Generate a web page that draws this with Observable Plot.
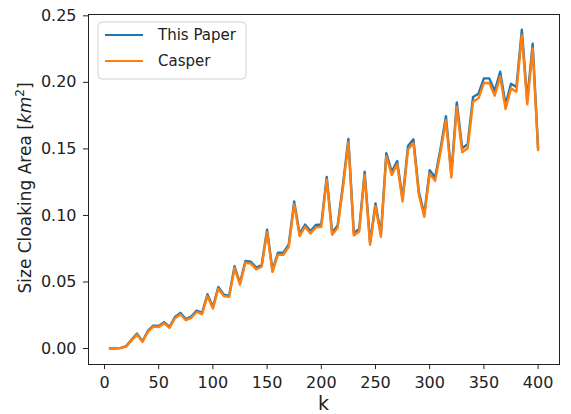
<!DOCTYPE html>
<html>
<head>
<meta charset="utf-8">
<script src="https://cdn.jsdelivr.net/npm/d3@7"></script>
<script src="https://cdn.jsdelivr.net/npm/@observablehq/plot@0.6"></script>
<style>
  html, body { margin: 0; padding: 0; background: #fff; }
  #chart { width: 571px; height: 414px; }
</style>
</head>
<body>
<div id="chart"></div>
<script>
const seriesNames = ["This Paper", "Casper"];
const seriesColors = ["#1f77b4", "#ff7f0e"];
const xTicks = [0, 50, 100, 150, 200, 250, 300, 350, 400];
const yTicks = [0, 0.05, 0.10, 0.15, 0.20, 0.25];

const ks = [5,10,15,20,25,30,35,40,45,50,55,60,65,70,75,80,85,90,95,100,
  105,110,115,120,125,130,135,140,145,150,155,160,165,170,175,180,185,190,195,200,
  205,210,215,220,225,230,235,240,245,250,255,260,265,270,275,280,285,290,295,300,
  305,310,315,320,325,330,335,340,345,350,355,360,365,370,375,380,385,390,395,400];

const thisPaper = [0.0000,0.0001,0.0005,0.0018,0.0065,0.0112,0.0055,0.0132,0.0172,0.0170,
  0.0198,0.0162,0.0237,0.0268,0.0222,0.0240,0.0285,0.0268,0.0408,0.0310,
  0.0462,0.0405,0.0398,0.0618,0.0492,0.0658,0.0652,0.0608,0.0628,0.0893,
  0.0588,0.0720,0.0720,0.0782,0.1105,0.0862,0.0932,0.0882,0.0928,0.0932,
  0.1290,0.0872,0.0922,0.1232,0.1575,0.0868,0.0898,0.1328,0.0798,0.1090,
  0.0858,0.1468,0.1328,0.1408,0.1125,0.1522,0.1572,0.1178,0.1010,0.1340,
  0.1285,0.1502,0.1745,0.1310,0.1850,0.1505,0.1535,0.1890,0.1915,0.2030,
  0.2030,0.1935,0.2080,0.1835,0.1990,0.1965,0.2395,0.1865,0.2290,0.1505];

const casper = [0.0000,0.0000,0.0004,0.0015,0.0060,0.0105,0.0050,0.0125,0.0165,0.0162,
  0.0190,0.0155,0.0228,0.0258,0.0213,0.0230,0.0275,0.0258,0.0395,0.0300,
  0.0450,0.0395,0.0388,0.0605,0.0480,0.0645,0.0638,0.0595,0.0615,0.0875,
  0.0575,0.0705,0.0705,0.0765,0.1085,0.0845,0.0915,0.0865,0.0910,0.0915,
  0.1270,0.0855,0.0905,0.1210,0.1550,0.0850,0.0880,0.1305,0.0780,0.1070,
  0.0840,0.1445,0.1305,0.1385,0.1105,0.1495,0.1545,0.1155,0.0990,0.1315,
  0.1260,0.1475,0.1715,0.1285,0.1815,0.1475,0.1505,0.1855,0.1880,0.1995,
  0.1995,0.1900,0.2045,0.1800,0.1955,0.1930,0.2355,0.1835,0.2255,0.1490];

const rowsA = ks.map((k, i) => ({k, v: thisPaper[i]}));
const rowsB = ks.map((k, i) => ({k, v: casper[i]}));

const W = 571, H = 414;
const mL = 88, mR = 12, mT = 14, mB = 50;

const plot = Plot.plot({
  width: W,
  height: H,
  marginLeft: mL,
  marginRight: mR,
  marginTop: mT,
  marginBottom: mB,
  style: { fontFamily: "DejaVu Sans", fontSize: "16px", color: "#222", background: "#fff" },
  x: { domain: [-14.75, 419.75] },
  y: { domain: [-0.012, 0.251] },
  marks: [
    Plot.lineY(rowsA, { x: "k", y: "v", stroke: seriesColors[0], strokeWidth: 2.4 }),
    Plot.lineY(rowsB, { x: "k", y: "v", stroke: seriesColors[1], strokeWidth: 2.4 }),
    Plot.frame({ stroke: "#222", strokeWidth: 1 }),
    Plot.axisX({ ticks: xTicks, tickSize: 5, tickPadding: 7, label: null, fontSize: 16 }),
    Plot.axisY({ ticks: yTicks, tickSize: 5, tickPadding: 7, tickFormat: d3.format(".2f"), label: null, fontSize: 16 })
  ]
});

document.getElementById("chart").appendChild(plot);

const svg = d3.select(plot);
const font = "DejaVu Sans";

// x axis title
svg.append("text")
  .attr("x", (mL + W - mR) / 2).attr("y", 410)
  .attr("text-anchor", "middle")
  .attr("font-family", font).attr("font-size", 19).attr("fill", "#222")
  .text("k");

// y axis title
const yt = svg.append("text")
  .attr("transform", `translate(31,188) rotate(-90)`)
  .attr("text-anchor", "middle")
  .attr("font-family", font).attr("font-size", 17).attr("fill", "#222");
yt.append("tspan").text("Size Cloaking Area [");
yt.append("tspan").attr("font-style", "italic").text("km");
yt.append("tspan").attr("font-size", 12).attr("dy", -7).text("2");
yt.append("tspan").attr("dy", 7).text("]");

// legend
const lg = svg.append("g").attr("text-anchor", "start");
lg.append("rect")
  .attr("x", 98).attr("y", 22).attr("width", 148).attr("height", 57)
  .attr("rx", 4).attr("fill", "#fff").attr("fill-opacity", 0.8)
  .attr("stroke", "#d0d0d0").attr("stroke-width", 1);
seriesNames.forEach((name, i) => {
  const cy = 35 + i * 26;
  lg.append("line")
    .attr("x1", 105).attr("x2", 143).attr("y1", cy).attr("y2", cy)
    .attr("stroke", seriesColors[i]).attr("stroke-width", 2);
  lg.append("text")
    .attr("x", 158).attr("y", cy).attr("dy", "0.35em")
    .attr("text-anchor", "start")
    .attr("font-family", font).attr("font-size", 15).attr("fill", "#222")
    .text(name);
});
</script>
</body>
</html>
